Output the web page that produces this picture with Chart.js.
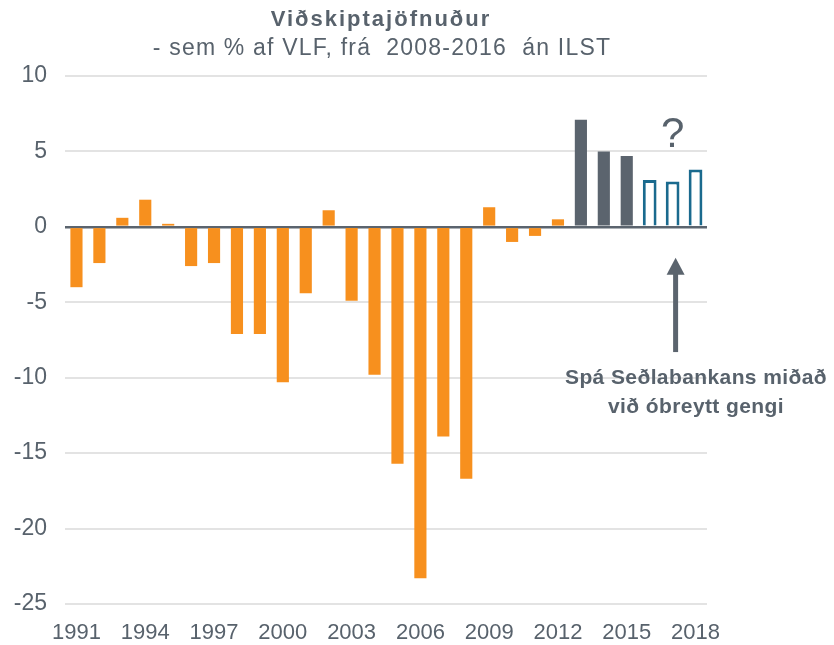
<!DOCTYPE html>
<html>
<head>
<meta charset="utf-8">
<script src="https://cdn.jsdelivr.net/npm/chart.js@4.4.1/dist/chart.umd.min.js"></script>
<style>
  html, body { margin: 0; padding: 0; background: #fff; }
  #wrap { width: 834px; height: 645px; }
</style>
</head>
<body>
<div id="wrap"><canvas id="chart"></canvas></div>
<script>
// Years on the x axis
const years = [];
for (let y = 1991; y <= 2018; y++) years.push(String(y));

// Current account balance, % of GDP
const historyValues = [-4.0, -2.4, 0.6, 1.8, 0.2, -2.6, -2.4, -7.1, -7.1, -10.3, -4.4, 1.1,
                       -4.9, -9.8, -15.7, -23.3, -13.9, -16.7, 1.3, -1.0, -0.6, 0.5];
const recentValues = [7.1, 5.0, 4.7];     // 2013-2015
const forecastValues = [3.1, 3.0, 3.8];   // 2016-2018, central bank forecast

const yTicks = [10, 5, 0, -5, -10, -15, -20, -25];

const titleText = "Viðskiptajöfnuður";
const subtitleText = "- sem % af VLF, frá  2008-2016  án ILST";
const noteLines = ["Spá Seðlabankans miðað", "við óbreytt gengi"];

const textColor = "#58626c";
const orange = "#f7901e";
const slate = "#5b646e";
const teal = "#1a6a8e";
const fontFamily = "'Liberation Sans', Arial, sans-serif";

// pad each series out to the full year range
function place(values, start) {
    const out = years.map(() => null);
    values.forEach((v, i) => out[start + i] = v);
    return out;
}

const extras = {
    id: "extras",
    afterDraw(chart) {
        const c = chart.ctx;
        const x = chart.scales.x, y = chart.scales.y;
        c.save();
        c.fillStyle = textColor;
        c.textAlign = "center";
        c.textBaseline = "middle";
        c.font = "bold 22px " + fontFamily;
        c.letterSpacing = "2px";
        c.fillText(titleText, 381, 20);
        c.font = "23px " + fontFamily;
        c.letterSpacing = "1.2px";
        c.fillText(subtitleText, 382, 49);

        // question mark above the forecast bars
        const qx = x.getPixelForValue(years.indexOf("2017"));
        c.letterSpacing = "0px";
        c.font = "42px " + fontFamily;
        c.fillText("?", qx, 135);

        // arrow pointing at the forecast
        const ax = qx + 3;
        const tip = y.getPixelForValue(-2.05), tail = y.getPixelForValue(-8.3);
        c.strokeStyle = slate;
        c.fillStyle = slate;
        c.lineWidth = 5;
        c.beginPath();
        c.moveTo(ax, tail);
        c.lineTo(ax, tip + 12);
        c.stroke();
        c.beginPath();
        c.moveTo(ax, tip);
        c.lineTo(ax - 9, tip + 17);
        c.lineTo(ax + 9, tip + 17);
        c.closePath();
        c.fill();

        c.fillStyle = textColor;
        c.font = "bold 21px " + fontFamily;
        c.letterSpacing = "0.4px";
        c.fillText(noteLines[0], 696, 378);
        c.fillText(noteLines[1], 696, 407);
        c.restore();
    }
};

new Chart(document.getElementById("chart"), {
    type: "bar",
    data: {
        labels: years,
        datasets: [
            { data: place(historyValues, 0), backgroundColor: orange, borderWidth: 0 },
            { data: place(recentValues, 22), backgroundColor: slate, borderWidth: 0 },
            { data: place(forecastValues, 25), backgroundColor: "#ffffff", borderColor: teal,
              borderWidth: 3, borderSkipped: "bottom", barPercentage: 0.6 }
        ]
    },
    options: {
        responsive: true,
        maintainAspectRatio: false,
        animation: false,
        layout: { padding: { top: 76, right: 127, left: 0, bottom: 0 } },
        datasets: { bar: { barPercentage: 0.53, categoryPercentage: 1 } },
        plugins: { legend: { display: false }, tooltip: { enabled: false } },
        scales: {
            x: {
                stacked: true,
                grid: { display: false, drawTicks: false },
                border: { display: false },
                afterFit: s => { s.height = 41; },
                ticks: {
                    autoSkip: false,
                    maxRotation: 0,
                    padding: 16,
                    color: textColor,
                    font: { family: fontFamily, size: 22 },
                    callback: (v, i) => i % 3 === 0 ? years[i] : ""
                }
            },
            y: {
                stacked: true,
                min: -25,
                max: 10,
                afterBuildTicks: s => { s.ticks = yTicks.map(v => ({ value: v })); },
                afterFit: s => { s.width = 65; },
                grid: {
                    drawTicks: false,
                    color: ctx => ctx.tick && ctx.tick.value === 0 ? slate : "#e3e3e3",
                    lineWidth: ctx => ctx.tick && ctx.tick.value === 0 ? 2.5 : 2
                },
                border: { display: false },
                ticks: {
                    padding: 18,
                    color: textColor,
                    font: { family: fontFamily, size: 23 }
                }
            }
        }
    },
    plugins: [extras]
});
</script>
</body>
</html>
